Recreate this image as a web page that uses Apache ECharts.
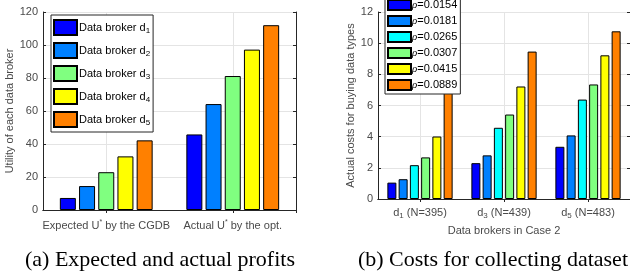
<!DOCTYPE html>
<html>
<head>
<meta charset="utf-8">
<script src="https://cdn.jsdelivr.net/npm/echarts@6/dist/echarts.min.js"></script>
<style>
  html, body { margin: 0; padding: 0; background: #fff; }
  #chart { width: 630px; height: 275px; }
</style>
</head>
<body>
<div id="chart"></div>
<script>
// left panel: utility of each broker
var groupsA = ['Expected U* by the CGDB', 'Actual U* by the opt.'];
var brokerNames = ['Data broker d1', 'Data broker d2', 'Data broker d3', 'Data broker d4', 'Data broker d5'];
var brokerColors = ['#0000ff', '#0080ff', '#80ff80', '#ffff00', '#ff8000'];
var utility = [
  [7.3, 45.8],
  [14.5, 64.2],
  [22.9, 81.2],
  [32.5, 97.2],
  [42.2, 112]
];

// right panel: costs per rho
var groupsB = ['d1 (N=395)', 'd3 (N=439)', 'd5 (N=483)'];
var rhoNames = ['ρ=0.0154', 'ρ=0.0181', 'ρ=0.0265', 'ρ=0.0307', 'ρ=0.0415', 'ρ=0.0889'];
var rhoColors = ['#0000ff', '#0080ff', '#00ffff', '#80ff80', '#ffff00', '#ff8000'];
var costs = [
  [1.05, 2.3, 3.35],
  [1.27, 2.8, 4.08],
  [2.17, 4.57, 6.38],
  [2.67, 5.42, 7.35],
  [4.01, 7.22, 9.22],
  [7.03, 9.46, 10.76]
];

var axisCol = '#262626';
var gridCol = '#e4e4e4';
var labCol = '#4a4a4a';
var font = 'Liberation Sans';

// top axis with two slots per group so its boundaries fall on group centres
function topAxis(gi, n) {
  var half = [];
  for (var i = 0; i < n * 2; i++) half.push('');
  var odd = function (i) { return i % 2 === 1; };
  return {
    type: 'category', gridIndex: gi, position: 'top', data: half,
    axisLine: { show: true, lineStyle: { color: axisCol } },
    axisTick: { show: true, inside: true, length: 3, interval: odd, lineStyle: { color: axisCol } },
    axisLabel: { show: false },
    splitLine: { show: true, interval: odd, lineStyle: { color: gridCol } }
  };
}

function rightAxis(gi, max, step) {
  return {
    type: 'value', gridIndex: gi, position: 'right', min: 0, max: max, interval: step,
    axisLine: { show: true, lineStyle: { color: axisCol } },
    axisTick: { show: true, inside: true, length: 3, lineStyle: { color: axisCol } },
    axisLabel: { show: false },
    splitLine: { show: false }
  };
}

var series = [];
brokerNames.forEach(function (n, i) {
  series.push({
    name: n, type: 'bar', xAxisIndex: 0, yAxisIndex: 0,
    data: utility[i], barWidth: 16, barGap: '20%', z: 3,
    itemStyle: { color: brokerColors[i], borderColor: '#000', borderWidth: 1 }
  });
});
rhoNames.forEach(function (n, i) {
  series.push({
    name: n, type: 'bar', xAxisIndex: 2, yAxisIndex: 2,
    data: costs[i], barWidth: 9, barGap: '25%', z: 3,
    itemStyle: { color: rhoColors[i], borderColor: '#000', borderWidth: 1 }
  });
});

var capStyle = { fontFamily: 'Liberation Serif', fontSize: 22, fontWeight: 'normal', color: '#000' };

var option = {
  animation: false,
  textStyle: { fontFamily: font },
  title: [
    { text: '(a) Expected and actual profits', left: 25, top: 249, padding: 0, textStyle: capStyle },
    { text: '(b) Costs for collecting dataset', right: 2, top: 249, padding: 0, textStyle: capStyle }
  ],
  grid: [
    { left: 43, top: 12, width: 253, height: 198 },
    { left: 378, top: 12, width: 252, height: 187 }
  ],
  legend: [
    {
      data: brokerNames, left: 51, top: 15, orient: 'vertical',
      itemWidth: 23, itemHeight: 15, itemGap: 6, padding: [4, 3, 4, 2],
      backgroundColor: '#fff', borderColor: '#262626', borderWidth: 1, borderRadius: 0,
      icon: 'rect',
      formatter: function (n) { return '{a|' + n.slice(0, -1) + '}{s|' + n.slice(-1) + '}'; },
      textStyle: {
        fontFamily: font, fontSize: 11, color: '#000', padding: [0, 0, 0, -3],
        rich: { a: { fontSize: 11, color: '#000' }, s: { fontSize: 8, color: '#000', verticalAlign: 'bottom', padding: [6, 0, 0, 0] } }
      }
    },
    {
      data: rhoNames, left: 385, top: -4, orient: 'vertical',
      itemWidth: 23, itemHeight: 10, itemGap: 4, padding: [3, 3, 3, 2],
      backgroundColor: '#fff', borderColor: '#262626', borderWidth: 1, borderRadius: 0,
      icon: 'rect',
      formatter: function (n) { return '{i|ρ}' + n.slice(1); },
      textStyle: {
        fontFamily: font, fontSize: 11, color: '#000', padding: [0, 0, 0, -4],
        rich: { i: { fontSize: 11, fontStyle: 'italic', fontFamily: 'Liberation Serif', color: '#000' } }
      }
    }
  ],
  xAxis: [
    {
      type: 'category', gridIndex: 0, data: groupsA,
      axisLine: { lineStyle: { color: axisCol } },
      axisTick: { inside: true, length: 3, alignWithLabel: true, lineStyle: { color: axisCol } },
      axisLabel: {
        interval: 0, fontSize: 11, color: labCol, margin: 9,
        formatter: function (v) { var p = v.split('*'); return p[0] + '{sup|*}' + p[1]; },
        rich: { sup: { fontSize: 7, color: labCol, verticalAlign: 'top', padding: [0, 0, 6, 0] } }
      },
      splitLine: { show: false }
    },
    topAxis(0, groupsA.length),
    {
      type: 'category', gridIndex: 1, data: groupsB,
      name: 'Data brokers in Case 2', nameLocation: 'middle', nameGap: 26,
      nameTextStyle: { fontSize: 11, color: labCol },
      axisLine: { lineStyle: { color: axisCol } },
      axisTick: { inside: true, length: 3, alignWithLabel: true, lineStyle: { color: axisCol } },
      axisLabel: {
        interval: 0, fontSize: 11, color: labCol, margin: 7,
        formatter: function (v) { return v.slice(0, 1) + '{s|' + v.slice(1, 2) + '}' + v.slice(2); },
        rich: { s: { fontSize: 8, color: labCol, verticalAlign: 'bottom', padding: [6, 0, 0, 0] } }
      },
      splitLine: { show: false }
    },
    topAxis(1, groupsB.length)
  ],
  yAxis: [
    {
      type: 'value', gridIndex: 0, min: 0, max: 120, interval: 20,
      name: 'Utility of each data broker', nameLocation: 'middle', nameGap: 24,
      nameTextStyle: { fontSize: 11, color: labCol },
      axisLine: { show: true, lineStyle: { color: axisCol } },
      axisTick: { show: true, inside: true, length: 3, lineStyle: { color: axisCol } },
      axisLabel: { fontSize: 11, color: labCol, margin: 5 },
      splitLine: { show: true, lineStyle: { color: gridCol } }
    },
    rightAxis(0, 120, 20),
    {
      type: 'value', gridIndex: 1, min: 0, max: 12, interval: 2,
      name: 'Actual costs for buying data types', nameLocation: 'middle', nameGap: 20,
      nameTextStyle: { fontSize: 11, color: labCol },
      axisLine: { show: true, lineStyle: { color: axisCol } },
      axisTick: { show: true, inside: true, length: 3, lineStyle: { color: axisCol } },
      axisLabel: { fontSize: 11, color: labCol, margin: 5 },
      splitLine: { show: true, lineStyle: { color: gridCol } }
    },
    rightAxis(1, 12, 2)
  ],
  series: series
};

var chart = echarts.init(document.getElementById('chart'));
chart.setOption(option);
</script>
</body>
</html>
